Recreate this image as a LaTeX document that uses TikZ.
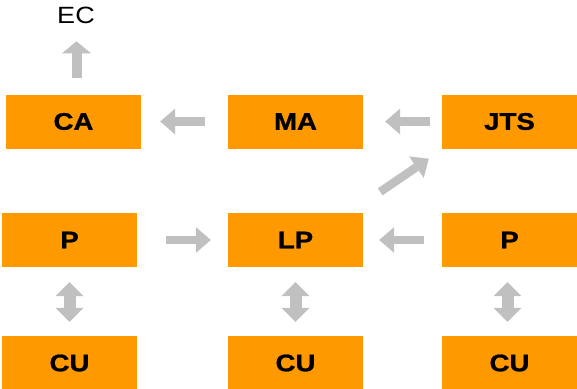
\documentclass[tikz,border=0pt]{standalone}
\usepackage{fontspec}
\setmainfont{Liberation Sans}
\usetikzlibrary{arrows.meta}
\definecolor{boxorange}{HTML}{FF9900}
\definecolor{arrowgray}{HTML}{C0C0C0}
\newcommand\stretchtxt[1]{\scalebox{1.15}[1]{#1}}
\begin{document}
\begin{tikzpicture}[x=1pt,y=1pt,
  box/.style={fill=boxorange, minimum width=135pt, minimum height=54pt, inner sep=0pt,
    font=\bfseries\fontsize{24}{24}\selectfont\addfontfeature{FakeBold=1}},
  blk/.style={draw=arrowgray, line width=8.5pt,
    -{Triangle[width=26pt,length=15pt,line width=0pt]}},
  uparr/.style={draw=arrowgray, line width=10pt,
    -{Triangle[width=29pt,length=12pt,line width=0pt]}},
  dbl/.style={draw=arrowgray, line width=12pt,
    {Triangle[width=28pt,length=14pt,line width=0pt]}-{Triangle[width=28pt,length=14pt,line width=0pt]}}]
\useasboundingbox (0,0) rectangle (577,-388);
% boxes
\node[box] (CA)  at (73.5,-121.5)  {\stretchtxt{CA}};
\node[box] (MA)  at (295.5,-121.5) {\stretchtxt{MA}};
\node[box] (JTS) at (509.5,-121.5) {\stretchtxt{JTS}};
\node[box] (P1)  at (69.5,-240)  {\stretchtxt{P}};
\node[box] (LP)  at (295.5,-240) {\stretchtxt{LP}};
\node[box] (P2)  at (509.5,-240) {\stretchtxt{P}};
\node[box] (CU1) at (69.5,-363)  {\stretchtxt{CU}};
\node[box] (CU2) at (295.5,-363) {\stretchtxt{CU}};
\node[box] (CU3) at (509.5,-363) {\stretchtxt{CU}};
\node[inner sep=0pt, font=\fontsize{23.5}{23.5}\selectfont] (EC) at (76,-15) {\stretchtxt{EC}};
% arrows
\draw[uparr] ([xshift=3pt,yshift=16pt]CA.north) -- ([xshift=3pt,yshift=53pt]CA.north);
\draw[blk] ([xshift=-23pt]MA.west) -- ([xshift=19pt]CA.east);
\draw[blk] ([xshift=-12pt]JTS.west) -- ([xshift=22pt]MA.east);
\draw[blk] ([shift={(17pt,21pt)}]LP.north east) -- ([shift={(-13pt,-10pt)}]JTS.south west);
\draw[blk] ([xshift=29pt]P1.east) -- ([xshift=-17pt]LP.west);
\draw[blk] ([xshift=-18pt]P2.west) -- ([xshift=16pt]LP.east);
\draw[dbl] ([yshift=-15pt]P1.south) -- ([yshift=14pt]CU1.north);
\draw[dbl] ([yshift=-15pt]LP.south) -- ([yshift=14pt]CU2.north);
\draw[dbl] ([xshift=-2pt,yshift=-15pt]P2.south) -- ([xshift=-2pt,yshift=14pt]CU3.north);
\end{tikzpicture}
\end{document}
